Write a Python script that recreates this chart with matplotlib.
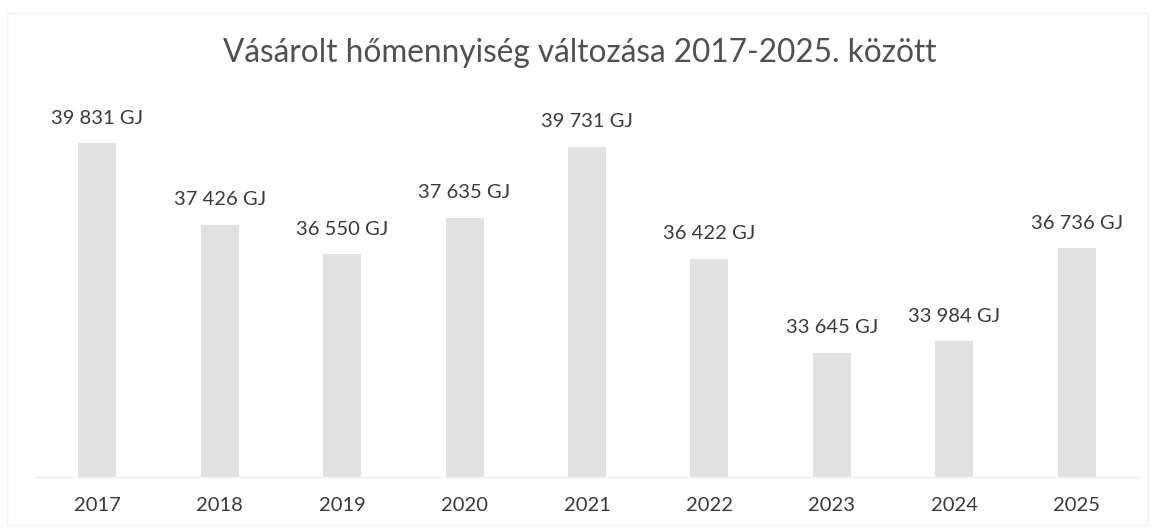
import matplotlib
matplotlib.use("Agg")
import matplotlib.pyplot as plt
from matplotlib.patches import Rectangle

years = ["2017", "2018", "2019", "2020", "2021", "2022", "2023", "2024", "2025"]
values = [39831, 37426, 36550, 37635, 39731, 36422, 33645, 33984, 36736]
labels = ["39 831 GJ", "37 426 GJ", "36 550 GJ", "37 635 GJ", "39 731 GJ",
          "36 422 GJ", "33 645 GJ", "33 984 GJ", "36 736 GJ"]
title = "Vásárolt hőmennyiség változása 2017-2025. között"

plt.rcParams['font.family'] = ['Lato', 'DejaVu Sans']

fig = plt.figure(figsize=(11.55, 5.29), dpi=100)
W, H = 1155, 529
left, right = 36 / W, 1138 / W
bottom_px, top_px = 476.5, 137.5
ax = fig.add_axes([left, 1 - bottom_px / H, right - left, (bottom_px - top_px) / H])

x = list(range(len(years)))
ax.bar(x, [v - 30000 for v in values], bottom=30000, width=0.31, color="#E2E2E2")
ax.set_xlim(-0.5, len(years) - 0.5)
ax.set_ylim(30000, 40000)
for i, (v, lab) in enumerate(zip(values, labels)):
    ax.annotate(lab, (i, v), xytext=(0, 18), textcoords="offset points",
                ha="center", va="center", fontsize=14.5, color="#3A3A3A")

ax.set_xticks(x)
ax.set_xticklabels(years, fontsize=14.5, color="#3A3A3A")
ax.tick_params(axis="x", length=0, pad=15)
ax.set_yticks([])
for s in ["left", "right", "top"]:
    ax.spines[s].set_visible(False)
ax.spines["bottom"].set_color("#EEEEEE")
ax.spines["bottom"].set_linewidth(1.0)

fig.text(580 / W, 1 - 53 / H, title, ha="center", va="center", fontsize=22.7, color="#505050")

fig.patches.append(Rectangle((7 / W, 1 - 525 / H), (1148 - 7) / W, (525 - 13) / H,
                             transform=fig.transFigure, fill=False,
                             edgecolor="#F2F2F2", linewidth=1.0))

fig.savefig("out.png", dpi=100)
